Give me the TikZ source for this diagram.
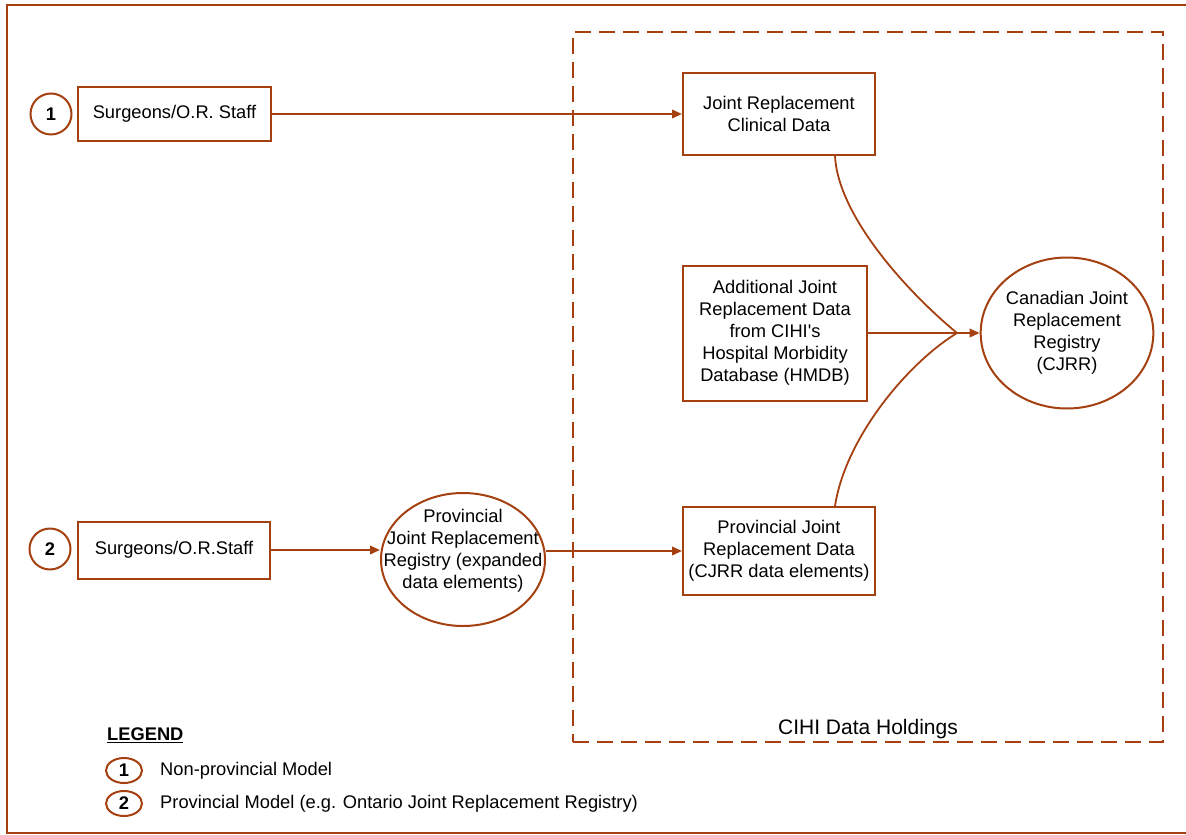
\documentclass[tikz,border=0pt]{standalone}
\usepackage{fontspec}
\setmainfont{Liberation Sans}
\usetikzlibrary{shapes.geometric,arrows.meta}
\definecolor{rust}{RGB}{165,64,16}
\begin{document}
\begin{tikzpicture}[x=1pt,y=-1pt,
  txt/.style={font=\fontsize{18.3}{22}\selectfont, text=black},
  box/.style={draw=rust, line width=2pt, fill=white, txt, align=center, inner sep=0pt},
  oval/.style={ellipse, draw=rust, line width=2pt, txt, align=center, inner sep=0pt},
  num/.style={circle, draw=rust, line width=2pt, inner sep=0pt, minimum size=41pt, text=black, font=\fontsize{18.3}{22}\selectfont\bfseries},
  lnum/.style={ellipse, draw=rust, line width=2pt, inner sep=0pt, minimum width=36pt, minimum height=25pt, text=black, font=\fontsize{18.3}{22}\selectfont\bfseries},
  flow/.style={draw=rust, line width=2pt, -{Triangle[length=10pt,width=8.5pt]}},
  link/.style={draw=rust, line width=1.8pt},
  holdbox/.style={draw=rust, line width=2pt, dash pattern=on 16pt off 8pt, inner sep=0pt}]
\useasboundingbox (0,0) rectangle (1186,835);
\begin{scope}
\clip (0,0) rectangle (1186,835);
\draw[rust, line width=2.6pt] (1200,5) -- (7,5) -- (7,833) -- (1200,833);
\end{scope}

% CIHI data holdings container
\node[holdbox, minimum width=590pt, minimum height=710pt] (hold) at (868,387) {};
\node[txt, font=\fontsize{21}{24}\selectfont] (holdlbl) at (868,729) {CIHI Data Holdings};

% row 1
\node[num] (n1) at (51,114) {1};
\node[box, minimum width=193pt, minimum height=54pt] (s1) at (174.5,114) {Surgeons/O.R. Staff};
\node[box, minimum width=192pt, minimum height=82pt] (clin) at (779,114) {Joint Replacement\\Clinical Data};

% middle
\node[box, minimum width=184pt, minimum height=135pt] (hmdb) at (775,333) {Additional Joint\\Replacement Data\\from CIHI\textquotesingle s\\Hospital Morbidity\\Database (HMDB)};
\node[oval, minimum width=166pt, minimum height=151pt] (cjrr) at (1067,333) {Canadian Joint\\Replacement\\Registry\\(CJRR)};

% row 2
\node[num] (n2) at (50,549) {2};
\node[box, minimum width=192pt, minimum height=57pt] (s2) at (174,550) {Surgeons/O.R.Staff};
\node[oval, minimum width=164pt, minimum height=133pt] (prov) at (463,559.5) {};
\node[txt, align=center, inner sep=0pt] (provtxt) at (463,551) {Provincial\\Joint Replacement\\Registry (expanded\\data elements)};
\node[box, minimum width=192pt, minimum height=88pt] (pdata) at (779,551) {Provincial Joint\\Replacement Data\\(CJRR data elements)};

% connectors
\coordinate (j) at (957,333);
\draw[flow] (s1.east) -- (clin.west);
\draw[flow] (s2.east) -- (prov.west |- s2.east);
\draw[flow] (prov.east |- pdata.west) -- (pdata.west);
\draw[link] ([xshift=-41pt]clin.south east) .. controls (838,215) and (905,290) .. (j);
\draw[link] ([xshift=-41pt]pdata.north east) .. controls (845,440) and (905,365) .. (j);
\draw[link] (hmdb.east) -- (j);
\draw[flow] (j) -- (cjrr.west);

% legend
\node[txt, font=\fontsize{18.3}{22}\selectfont\bfseries, anchor=west, inner sep=0pt] (leg) at (107,735) {\underline{LEGEND}};
\node[lnum] (l1) at (124,770.5) {1};
\node[txt, anchor=west, inner sep=0pt] (l1t) at (160,770.5) {Non-provincial Model};
\node[lnum] (l2) at (124,803.5) {2};
\node[txt, anchor=west, inner sep=0pt] (l2t) at (160,803.5) {Provincial Model (e.g. Ontario Joint Replacement Registry)};
\end{tikzpicture}
\end{document}
